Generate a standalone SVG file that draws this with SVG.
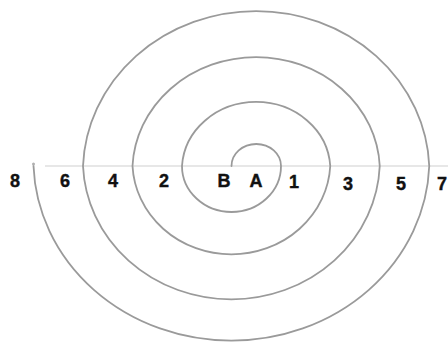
<svg xmlns="http://www.w3.org/2000/svg" width="448" height="357" viewBox="0 0 448 357">
<style>
.lbl{font-family:"Liberation Sans",Arial,sans-serif;font-weight:bold;font-size:18px;fill:#111;stroke:#111;stroke-width:0.4;text-anchor:middle}
.spiral{fill:none;stroke:#9a9a9a;stroke-width:1.8;stroke-linecap:round}
.axis{stroke:#cfcfcf;stroke-width:1}
</style>
<rect width="448" height="357" fill="#fff"/>
<g id="connectors">
<line class="axis" x1="45" y1="166" x2="448" y2="166"/>
<path class="spiral" d="M231.5,166 A24.75,22 0 0 1 281,166 A49.5,46 0 0 1 182,166 A74.25,68 0 0 1 330.25,166 A99,93 0 0 1 132.5,166 A123.75,114 0 0 1 379.75,166 A148.5,139 0 0 1 83,166 A173.25,161 0 0 1 429.25,166 A198,181 0 0 1 33.5,166"/>
<circle cx="33.5" cy="164" r="1.5" fill="#b0b0b0"/>
</g>
<g id="label-8"><text class="lbl" x="15" y="187">8</text></g>
<g id="label-6"><text class="lbl" x="65" y="187">6</text></g>
<g id="label-4"><text class="lbl" x="113" y="187">4</text></g>
<g id="label-2"><text class="lbl" x="164" y="187">2</text></g>
<g id="label-B"><text class="lbl" x="224" y="187">B</text></g>
<g id="label-A"><text class="lbl" x="256" y="187">A</text></g>
<g id="label-1"><text class="lbl" x="294" y="188">1</text></g>
<g id="label-3"><text class="lbl" x="348" y="190">3</text></g>
<g id="label-5"><text class="lbl" x="401" y="190">5</text></g>
<g id="label-7"><text class="lbl" x="442" y="190">7</text></g>
</svg>
